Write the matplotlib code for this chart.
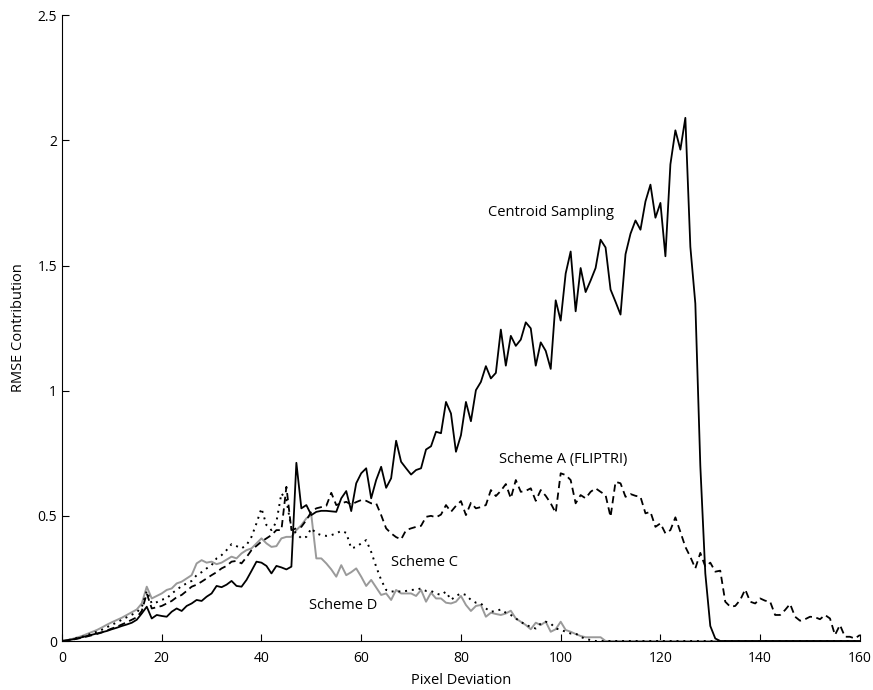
import numpy as np
import matplotlib
matplotlib.use("Agg")
import matplotlib.pyplot as plt

plt.rcParams['font.family'] = ['Open Sans', 'DejaVu Sans']

# pixel deviation 0..160
x = np.arange(161)

centroid = [
    0, 0.003, 0.006, 0.01, 0.015, 0.02, 0.025, 0.03, 0.035, 0.04,
    0.047, 0.053, 0.06, 0.066, 0.073, 0.085, 0.11, 0.137, 0.09, 0.104,
    0.10, 0.097, 0.117, 0.13, 0.12, 0.14, 0.15, 0.164, 0.16, 0.177,
    0.19, 0.22, 0.215, 0.225, 0.24, 0.22, 0.217, 0.244, 0.28, 0.317,
    0.313, 0.30, 0.27, 0.30, 0.294, 0.286, 0.297, 0.712, 0.53, 0.543,
    0.503, 0.516, 0.52, 0.52, 0.518, 0.516, 0.57, 0.599, 0.519, 0.63,
    0.67, 0.69, 0.57, 0.643, 0.696, 0.612, 0.65, 0.80, 0.716, 0.69,
    0.665, 0.683, 0.69, 0.765, 0.778, 0.836, 0.83, 0.955, 0.909, 0.756,
    0.822, 0.955, 0.878, 1.002, 1.035, 1.098, 1.049, 1.071, 1.244, 1.10,
    1.219, 1.179, 1.204, 1.273, 1.249, 1.10, 1.193, 1.159, 1.087, 1.361,
    1.28, 1.468, 1.556, 1.317, 1.49, 1.394, 1.44, 1.49, 1.603, 1.572,
    1.404, 1.355, 1.304, 1.545, 1.627, 1.68, 1.643, 1.756, 1.823, 1.691,
    1.75, 1.537, 1.904, 2.04, 1.963, 2.09, 1.575, 1.348, 0.70, 0.27,
    0.06, 0.01, 0,
] + [0] * 28

scheme_a = [
    0, 0.002, 0.005, 0.009, 0.013, 0.018, 0.023, 0.028, 0.034, 0.042,
    0.05, 0.057, 0.066, 0.075, 0.085, 0.095, 0.12, 0.19, 0.13, 0.135,
    0.14, 0.15, 0.16, 0.175, 0.184, 0.2, 0.217, 0.225, 0.237, 0.25,
    0.263, 0.275, 0.29, 0.30, 0.317, 0.32, 0.31, 0.335, 0.363, 0.38,
    0.397, 0.41, 0.423, 0.443, 0.443, 0.616, 0.443, 0.45, 0.456, 0.483,
    0.516, 0.53, 0.535, 0.54, 0.592, 0.543, 0.55, 0.556, 0.545, 0.555,
    0.563, 0.56, 0.55, 0.55, 0.503, 0.45, 0.43, 0.415, 0.406, 0.443,
    0.45, 0.456, 0.46, 0.496, 0.50, 0.494, 0.505, 0.543, 0.516, 0.54,
    0.559, 0.503, 0.552, 0.53, 0.535, 0.543, 0.603, 0.579, 0.60, 0.627,
    0.57, 0.643, 0.596, 0.60, 0.61, 0.56, 0.603, 0.58, 0.55, 0.512,
    0.67, 0.663, 0.643, 0.55, 0.583, 0.57, 0.596, 0.61, 0.596, 0.583,
    0.496, 0.636, 0.63, 0.576, 0.587, 0.58, 0.576, 0.51, 0.516, 0.456,
    0.47, 0.43, 0.443, 0.494, 0.436, 0.376, 0.336, 0.29, 0.352, 0.297,
    0.313, 0.277, 0.281, 0.157, 0.137, 0.14, 0.164, 0.206, 0.157, 0.15,
    0.17, 0.161, 0.157, 0.104, 0.104, 0.124, 0.148, 0.097, 0.081, 0.087,
    0.097, 0.095, 0.087, 0.104, 0.09, 0.024, 0.064, 0.017, 0.017, 0.01,
    0.024,
]

scheme_c = [
    0, 0.003, 0.007, 0.012, 0.017, 0.023, 0.03, 0.037, 0.045, 0.055,
    0.065, 0.074, 0.085, 0.095, 0.105, 0.115, 0.135, 0.20, 0.15, 0.155,
    0.165, 0.17, 0.19, 0.204, 0.22, 0.23, 0.24, 0.263, 0.275, 0.29,
    0.303, 0.33, 0.343, 0.363, 0.387, 0.379, 0.37, 0.383, 0.416, 0.47,
    0.53, 0.463, 0.443, 0.476, 0.59, 0.563, 0.45, 0.43, 0.41, 0.416,
    0.45, 0.43, 0.423, 0.42, 0.423, 0.43, 0.44, 0.432, 0.37, 0.376,
    0.39, 0.403, 0.356, 0.297, 0.244, 0.204, 0.197, 0.20, 0.197, 0.20,
    0.204, 0.205, 0.21, 0.20, 0.20, 0.19, 0.184, 0.197, 0.164, 0.18,
    0.19, 0.184, 0.164, 0.153, 0.15, 0.13, 0.117, 0.12, 0.126, 0.113,
    0.104, 0.09, 0.077, 0.064, 0.057, 0.05, 0.07, 0.077, 0.07, 0.05,
    0.045, 0.037, 0.03, 0.03, 0.017, 0.008, 0.004,
] + [0] * 54

scheme_d = [
    0, 0.003, 0.008, 0.014, 0.02, 0.028, 0.036, 0.044, 0.054, 0.065,
    0.075, 0.084, 0.093, 0.104, 0.115, 0.126, 0.15, 0.217, 0.17, 0.18,
    0.19, 0.204, 0.21, 0.23, 0.237, 0.25, 0.263, 0.31, 0.323, 0.313,
    0.317, 0.307, 0.313, 0.325, 0.337, 0.33, 0.35, 0.363, 0.37, 0.39,
    0.41, 0.39, 0.376, 0.379, 0.41, 0.416, 0.416, 0.443, 0.463, 0.49,
    0.503, 0.33, 0.33, 0.31, 0.286, 0.257, 0.303, 0.263, 0.275, 0.29,
    0.257, 0.22, 0.244, 0.214, 0.184, 0.19, 0.164, 0.204, 0.19, 0.19,
    0.19, 0.18, 0.204, 0.157, 0.193, 0.17, 0.17, 0.153, 0.15, 0.157,
    0.18, 0.144, 0.12, 0.14, 0.144, 0.097, 0.113, 0.108, 0.104, 0.11,
    0.121, 0.09, 0.077, 0.064, 0.047, 0.073, 0.064, 0.077, 0.037, 0.047,
    0.077, 0.044, 0.037, 0.028, 0.02, 0.015, 0.015, 0.015, 0.015,
] + [0] * 52

fig = plt.figure(figsize=(8.73, 6.9), dpi=100)
ax = fig.add_axes([0.071, 0.071, 0.914, 0.907])

ax.plot(x, scheme_d, color='#9a9a9a', lw=1.4)
ax.plot(x, scheme_c, color='black', lw=1.4, linestyle=(0, (1, 2.5)))
ax.plot(x, scheme_a, color='black', lw=1.3, linestyle=(0, (4, 2.5)))
ax.plot(x, centroid, color='black', lw=1.3)

fs = 10.5
ax.text(85.4, 1.71, 'Centroid Sampling', fontsize=fs, va='center')
ax.text(87.6, 0.727, 'Scheme A (FLIPTRI)', fontsize=fs, va='center')
ax.text(65.9, 0.315, 'Scheme C', fontsize=fs, va='center')
ax.text(49.5, 0.14, 'Scheme D', fontsize=fs, va='center')

ax.set_xlim(0, 160)
ax.set_ylim(0, 2.5)
ax.set_xticks(np.arange(0, 161, 20))
ax.set_yticks([0, 0.5, 1, 1.5, 2, 2.5])
ax.set_yticklabels(['0', '0.5', '1', '1.5', '2', '2.5'])
ax.tick_params(direction='in', length=5, labelsize=10, width=0.8)
ax.tick_params(axis='x', pad=7)
ax.spines['top'].set_visible(False)
ax.spines['right'].set_visible(False)
ax.set_xlabel('Pixel Deviation', fontsize=fs, labelpad=5)
ax.set_ylabel('RMSE Contribution', fontsize=fs, labelpad=8)

fig.savefig('out.png', dpi=100)
